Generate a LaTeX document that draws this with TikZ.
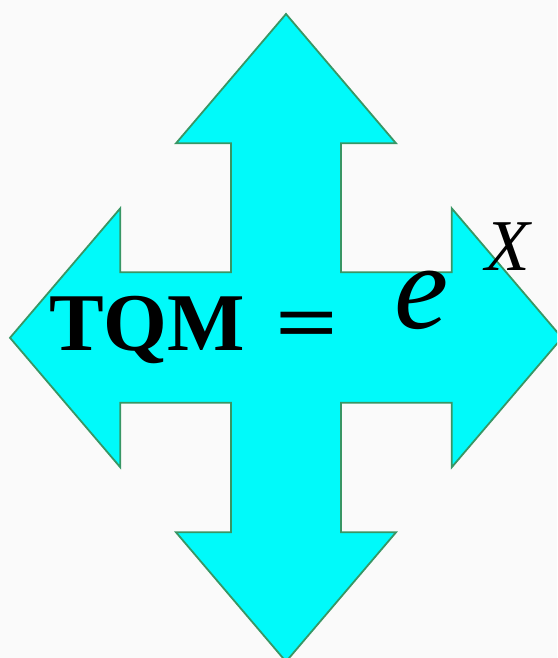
\documentclass[tikz,border=0pt]{standalone}
\usepackage{fontspec}
\setmainfont{Liberation Serif}
\definecolor{arrowfill}{RGB}{0,250,250}
\definecolor{arrowline}{RGB}{56,150,100}
\definecolor{bgcol}{RGB}{250,250,250}
\tikzset{
  crossarrow/.style={fill=arrowfill, draw=arrowline, line width=1.8pt, line join=miter},
  txt/.style={inner sep=0pt, outer sep=0pt, anchor=base west, text=black}
}
\begin{document}
\begin{tikzpicture}[x=1pt,y=-1pt]
\useasboundingbox (0,0) rectangle (557,658);
\clip (0,0) rectangle (557,658);
\fill[bgcol] (0,0) rectangle (557,658);
\draw[crossarrow]
  (286,14) -- (396,143.3) -- (341,143.3) -- (341,272.3) -- (451.7,272.3) -- (451.7,208.3)
  -- (562,337.8) -- (451.7,467.3) -- (451.7,402.7) -- (341,402.7) -- (341,532.3)
  -- (396,532.3) -- (286,661.6) -- (176,532.3) -- (231,532.3) -- (231,402.7)
  -- (120.3,402.7) -- (120.3,467.3) -- (10,337.8) -- (120.3,208.3) -- (120.3,272.3)
  -- (231,272.3) -- (231,143.3) -- (176,143.3) -- cycle;
\node[txt, font=\fontsize{82}{90}\selectfont\bfseries] (tqm) at (49,350.7) {TQM};
\node[txt, font=\fontsize{82}{90}\selectfont\bfseries, xscale=1.35] (eq) at (275,350.7) {=};
\node[txt, font=\fontsize{122}{130}\selectfont\itshape] (e) at (394,328) {e};
\node[txt, font=\fontsize{73}{80}\selectfont\itshape] (x) at (485,270) {X};
\end{tikzpicture}
\end{document}
